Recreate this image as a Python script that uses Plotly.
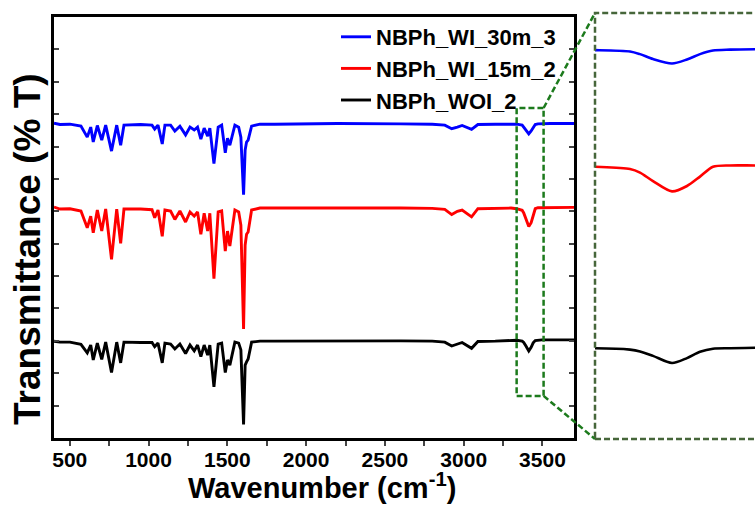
import plotly.graph_objects as go

# ---------------- data ----------------
wavenumber = [400, 438, 501, 571, 611, 633, 649, 675, 703, 728,
              765, 798, 823, 844, 950, 1022, 1039, 1060, 1087, 1104,
              1140, 1167, 1199, 1235, 1263, 1290, 1311, 1332, 1353, 1375,
              1389, 1415, 1442, 1464, 1487, 1501, 1516, 1548, 1572, 1586,
              1603, 1613, 1622, 1632, 1654, 1707,
              1800, 2200, 2600, 2800, 2880, 2924, 2960, 2990, 3050, 3090,
              3200, 3300, 3336, 3371, 3381, 3394, 3413, 3428, 3441, 3454,
              3471, 3496, 3550, 3700]

t_wi_30m_3 = [97.2, 96.8, 96.9, 96.3, 92.9, 96.0, 91.4, 96.5, 92.0, 96.6,
              88.6, 96.6, 90.4, 96.6, 96.8, 96.6, 95.4, 96.6, 90.8, 96.6,
              96.6, 94.8, 96.3, 93.6, 96.0, 95.1, 96.0, 92.3, 95.7, 93.2,
              95.7, 84.7, 96.0, 96.6, 88.1, 92.6, 90.4, 96.6, 96.0, 92.9,
              75.1, 88.9, 91.4, 92.0, 96.3, 96.9,
              96.9, 97.1, 97.0, 96.9, 96.6, 95.5, 96.0, 96.5, 95.3, 96.8,
              96.9, 96.9, 96.9, 96.6, 96.0, 94.9, 93.9, 94.8, 96.0, 96.8,
              97.0, 97.1, 97.1, 97.1]

t_wi_15m_2 = [71.3, 70.7, 70.8, 70.1, 64.9, 68.5, 63.4, 70.4, 63.9, 70.7,
              55.2, 70.7, 60.1, 70.7, 70.7, 70.5, 68.0, 70.4, 62.3, 70.4,
              70.1, 67.5, 70.1, 66.7, 69.8, 68.5, 69.8, 62.9, 69.4, 63.9,
              69.4, 49.2, 69.8, 70.1, 57.7, 63.9, 59.3, 70.4, 69.8, 65.7,
              33.7, 59.6, 62.9, 63.6, 70.4, 71.0,
              71.0, 71.1, 71.0, 70.9, 70.6, 69.0, 70.0, 70.4, 68.3, 70.8,
              71.0, 71.0, 70.8, 70.3, 69.5, 67.6, 65.3, 66.5, 68.6, 70.8,
              71.1, 71.1, 71.1, 71.2]

t_woi_2 = [29.9, 29.6, 29.6, 28.9, 26.3, 28.7, 24.1, 29.3, 24.3, 29.6,
           20.2, 29.6, 23.2, 29.6, 29.5, 29.5, 28.2, 29.3, 23.2, 29.3,
           29.0, 27.5, 29.0, 26.1, 28.7, 26.9, 28.7, 25.1, 28.7, 25.6,
           28.7, 15.8, 29.0, 29.3, 20.2, 24.1, 22.5, 29.6, 29.3, 27.2,
           4.2, 22.5, 23.5, 24.4, 29.6, 29.9,
           29.9, 30.0, 30.0, 29.9, 29.6, 28.4, 29.1, 29.5, 27.7, 29.8,
           29.9, 30.0, 30.2, 29.9, 29.5, 28.5, 26.9, 28.0, 29.4, 30.1,
           30.2, 30.3, 30.3, 30.3]

series_names = ["NBPh_WI_30m_3", "NBPh_WI_15m_2", "NBPh_WOI_2"]
series_values = [t_wi_30m_3, t_wi_15m_2, t_woi_2]
series_colors = ["#0000ff", "#ff0000", "#000000"]

x_ticks = [500, 1000, 1500, 2000, 2500, 3000, 3500]
x_range = [400, 3700]
y_range = [0, 130]
zoom_x = [3336, 3507]
zoom_y = [13.0, 101.9]
inset_x_range = [3336, 3496]
inset_y_range = [9.9, 105.2]

# ---------------- layout geometry ----------------
W, H = 755, 506
ML, MR, MT, MB = 54, 0, 13, 67
PW, PH = W - ML - MR, H - MT - MB


def px(xp):
    return (xp - ML) / PW


def py(yp):
    return (H - MB - yp) / PH


main_dom_x = [px(54), px(574)]
main_dom_y = [py(438), py(17)]
inset_dom_x = [px(595), 1.0]
inset_dom_y = [0.0, 1.0]

FONT = "Liberation Sans, Arial, sans-serif"

fig = go.Figure()
for name, vals, col in zip(series_names, series_values, series_colors):
    fig.add_trace(go.Scatter(x=wavenumber, y=vals, mode="lines", name=name,
                             line=dict(color=col, width=2.9),
                             xaxis="x", yaxis="y"))
for name, vals, col in zip(series_names, series_values, series_colors):
    fig.add_trace(go.Scatter(x=wavenumber, y=vals, mode="lines", name=name,
                             line=dict(color=col, width=2.6, shape="spline", smoothing=0.8),
                             xaxis="x2", yaxis="y2", showlegend=False))

tickfont = dict(family=FONT, size=21, color="black", weight="bold")

fig.update_layout(
    width=W, height=H,
    margin=dict(l=ML, r=MR, t=MT, b=MB),
    paper_bgcolor="white", plot_bgcolor="rgba(0,0,0,0)",
    showlegend=True,
    legend=dict(x=px(336), y=py(16), xanchor="left", yanchor="top",
                bgcolor="rgba(0,0,0,0)", borderwidth=0,
                font=dict(family=FONT, size=22, color="black", weight="bold"),
                tracegroupgap=0, itemwidth=30),
    xaxis=dict(domain=main_dom_x, range=x_range, anchor="y",
               tickvals=x_ticks, ticks="outside", ticklen=5, tickwidth=1.6,
               ticklabelstandoff=-4,
               minor=dict(dtick=250, tick0=500, ticks="outside", ticklen=5, tickwidth=1.6),
               showline=True, linewidth=2.5, linecolor="black", mirror=True,
               showgrid=False, zeroline=False, tickfont=tickfont),
    xaxis3=dict(domain=main_dom_x, range=x_range, anchor="y", overlaying="x",
                side="top", dtick=250, tick0=500, ticks="inside", ticklen=5,
                tickwidth=1.6, showticklabels=False, showline=False,
                showgrid=False, zeroline=False),
    yaxis=dict(domain=main_dom_y, range=y_range, anchor="x",
               dtick=10, tick0=0, ticks="inside", ticklen=5, tickwidth=1.6,
               showticklabels=False, showline=True, linewidth=2.5,
               linecolor="black", mirror="ticks", showgrid=False, zeroline=False),
    xaxis2=dict(domain=inset_dom_x, range=inset_x_range, anchor="y2",
                visible=False, showgrid=False, zeroline=False),
    yaxis2=dict(domain=inset_dom_y, range=inset_y_range, anchor="x2",
                visible=False, showgrid=False, zeroline=False),
)

# axis titles
fig.add_annotation(text="Transmittance (% T)", xref="paper", yref="paper",
                   x=px(27), y=py(249), xanchor="center", yanchor="middle",
                   textangle=-90, showarrow=False,
                   font=dict(family=FONT, size=37, color="black", weight="bold"))
fig.add_annotation(text="Wavenumber (cm<sup>-1</sup>)", xref="paper", yref="paper",
                   x=px(322), y=py(486), xanchor="center", yanchor="middle",
                   showarrow=False,
                   font=dict(family=FONT, size=29, color="black", weight="bold"))

# zoom box in main plot
green = "#1c7a1c"
olive = "#46663a"
dash = "6px,3px"
fig.add_shape(type="rect", xref="x", yref="y", x0=zoom_x[0], x1=zoom_x[1],
              y0=zoom_y[0], y1=zoom_y[1], line=dict(color=green, width=2.5, dash=dash))


def main_to_paper_x(v):
    return main_dom_x[0] + (v - x_range[0]) / (x_range[1] - x_range[0]) * (main_dom_x[1] - main_dom_x[0])


def main_to_paper_y(v):
    return main_dom_y[0] + (v - y_range[0]) / (y_range[1] - y_range[0]) * (main_dom_y[1] - main_dom_y[0])


# connectors (main box corners -> inset corners)
fig.add_shape(type="line", xref="paper", yref="paper",
              x0=main_to_paper_x(zoom_x[1]), y0=main_to_paper_y(zoom_y[1]),
              x1=inset_dom_x[0], y1=inset_dom_y[1], line=dict(color=green, width=2.5, dash=dash))
fig.add_shape(type="line", xref="paper", yref="paper",
              x0=main_to_paper_x(zoom_x[1]), y0=main_to_paper_y(zoom_y[0]),
              x1=inset_dom_x[0], y1=inset_dom_y[0], line=dict(color=green, width=2.5, dash=dash))

# inset frame (right side falls off the canvas)
fig.add_shape(type="rect", xref="paper", yref="paper",
              x0=inset_dom_x[0], x1=1.1, y0=inset_dom_y[0], y1=inset_dom_y[1],
              line=dict(color=olive, width=2.5, dash=dash))

fig.write_html("out.html")
